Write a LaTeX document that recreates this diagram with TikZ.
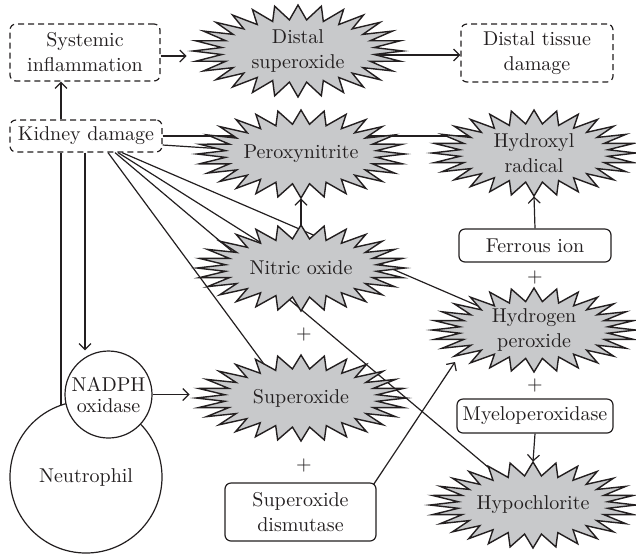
\documentclass[tikz,border=0pt]{standalone}
\usetikzlibrary{shapes.geometric,arrows.meta,backgrounds}
\definecolor{ink}{HTML}{231F20}
\definecolor{rosgray}{HTML}{C8C9CB}
% spiky reactive species: name, centre, half width, half height, text
\newcommand\rosnode[5]{%
  \draw[rosline,shift={(#2)}] plot[samples at={0,...,55}]
    ({(1-0.27*mod(\x,2))*#3*cos(\x*6.428571)},{(1-0.32*mod(\x,2))*#4*sin(\x*6.428571)}) -- cycle;
  \node[ellipse,inner sep=0pt,minimum width=#3pt,minimum height=#4pt] (#1) at (#2) {#5};}
\begin{document}
\begin{tikzpicture}[x=0.5pt,y=-0.5pt,
  every node/.style={font=\fontsize{10}{12.5}\selectfont,text=ink,align=center},
  rosline/.style={draw=ink,fill=rosgray,line width=0.7pt,line join=miter},
  effect/.style={draw=ink,dash pattern=on 3pt off 2pt,rounded corners=3pt,fill=white,line width=0.6pt,inner sep=0pt},
  agent/.style={draw=ink,rounded corners=3pt,fill=white,line width=0.6pt,inner sep=0pt},
  cell/.style={circle,draw=ink,fill=white,line width=0.6pt,inner sep=0pt},
  link/.style={draw=ink,line width=0.6pt},
  arr/.style={link,-{Straight Barb[length=3pt,width=6pt]}}]
  \useasboundingbox (0,0) rectangle (636,554);

  \node[effect,minimum width=75pt,minimum height=28.5pt] (sys) at (85,52.5) {Systemic\\inflammation};
  \node[effect,minimum width=76pt,minimum height=29pt] (tis) at (537,53) {Distal tissue\\damage};
  \node[effect,minimum width=76pt,minimum height=16pt] (kid) at (86,136) {Kidney damage};

  \rosnode{dsup}{298,51}{105}{46}{Distal\\superoxide}
  \rosnode{per}{301,154}{104}{44}{Peroxynitrite}
  \rosnode{hyd}{534,153}{102}{43}{Hydroxyl\\radical}
  \rosnode{nit}{301,268}{104}{43}{Nitric oxide}
  \rosnode{h2o}{534,330}{102}{42}{Hydrogen\\peroxide}
  \rosnode{sup}{301,398}{105}{43}{Superoxide}
  \rosnode{hyp}{533,505}{103}{43}{Hypochlorite}

  \node[agent,minimum width=76pt,minimum height=16.5pt] (fer) at (535,245.5) {Ferrous ion};
  \node[agent,minimum width=78pt,minimum height=17pt] (mye) at (535,416) {Myeloperoxidase};
  \node[agent,minimum width=75.5pt,minimum height=29pt] (sod) at (300.5,512) {Superoxide\\dismutase};

  \node[cell,minimum size=76pt] (neu) at (86,477) {Neutrophil};
  \node[cell,minimum size=43.5pt] (nad) at (108.5,394.5) {NADPH\\[-2pt]oxidase};

  \node (plus1) at (304,334) {+};
  \node (plus2) at (304,465) {+};
  \node (plus3) at (535,277) {+};
  \node (plus4) at (535,385) {+};

  \coordinate (h2oin) at (455,362);

  \begin{scope}[on background layer]
    \draw[link] (kid.east) -- (kid.east -| hyd.center);
    \draw[link] ([yshift=-4.5pt]kid.east) -- (per.center);
    \draw[link] ([xshift=11pt]kid.south) -- ([xshift=-6pt]sup.center);
    \draw[link] ([xshift=14.5pt]kid.south) -- (hyp.center);
    \draw[link] ([xshift=16pt]kid.south) -- (nit.center);
    \draw[link] ([xshift=18pt]kid.south) -- (h2o.center);
    \draw[link] ([xshift=-12.5pt]kid.south) -- ([xshift=-12.5pt]kid.south |- neu.center);
    \draw[arr] ([yshift=-2pt]dsup.center) -- ([yshift=-2pt]dsup.center -| tis.west);
  \end{scope}

  \draw[arr] ([xshift=-12.5pt]kid.north) -- ([xshift=-12.5pt]kid.north |- sys.south);
  \draw[arr] ([xshift=-0.5pt]kid.south) -- ([xshift=-0.5pt]kid.south |- nad.north);
  \draw[arr] ([yshift=-1.75pt]sys.east) -- ([yshift=-1.75pt,xshift=-3pt]sys.east -| dsup.west);
  \draw[arr] (nad.east) -- ([xshift=-3pt]nad.east -| sup.west);
  \draw[arr] (nit.north) -- (per.south);
  \draw[arr] (fer.north) -- (hyd.south);
  \draw[arr] (mye.south) -- (hyp.north);
  \draw[arr] ([xshift=-1.5pt,yshift=-1pt]sod.north east) -- (h2oin);
\end{tikzpicture}
\end{document}
